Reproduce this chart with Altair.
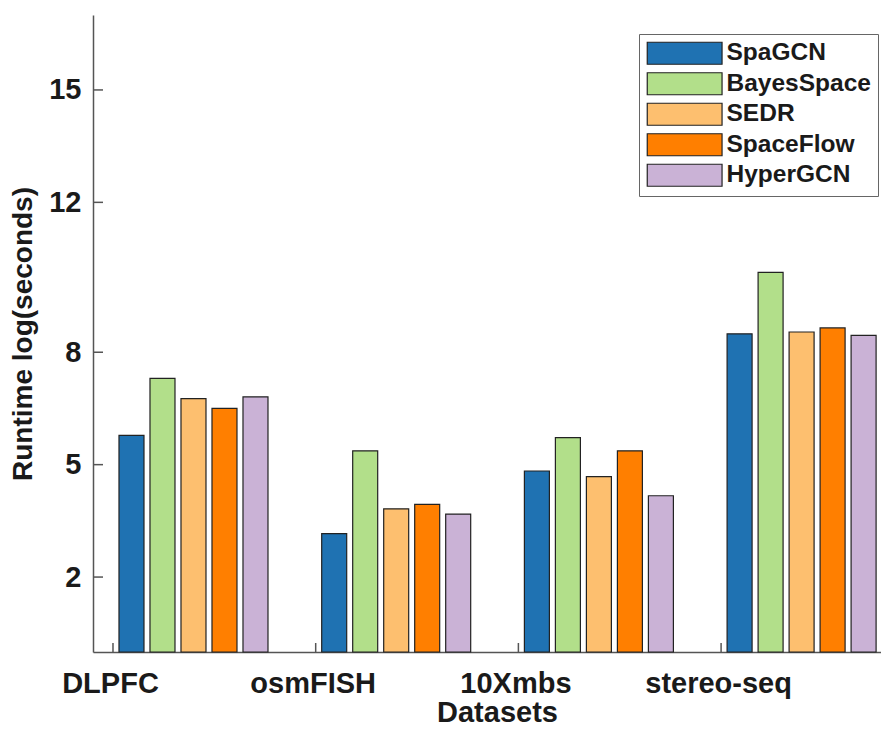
import altair as alt
import pandas as pd

datasets = ["DLPFC", "osmFISH", "10Xmbs", "stereo-seq"]
methods = ["SpaGCN", "BayesSpace", "SEDR", "SpaceFlow", "HyperGCN"]
spagcn = [5.78, 3.16, 4.83, 8.49]
bayesspace = [7.30, 5.37, 5.72, 10.13]
sedr = [6.76, 3.82, 4.68, 8.54]
spaceflow = [6.50, 3.94, 5.37, 8.65]
hypergcn = [6.81, 3.68, 4.17, 8.45]
y_ticks = [2, 5, 8, 12, 15]
colors = ["#1f72b2", "#b2df8a", "#fdbf6f", "#ff7f00", "#cab2d6"]

rows = []
for m, vals in zip(methods, [spagcn, bayesspace, sedr, spaceflow, hypergcn]):
    for d, v in zip(datasets, vals):
        rows.append({"Dataset": d, "Method": m, "Runtime": v})
df = pd.DataFrame(rows)

W, H = 788, 637
FONT = "Liberation Sans"
TXT = "#1a1a1a"
AX = "#555555"

x_scale = alt.Scale(domain=datasets, paddingInner=0.2353, paddingOuter=0.0614, align=0.803)
y_scale = alt.Scale(domain=[0, 17], nice=False, zero=True)

x_axis = alt.Axis(
    title="Datasets", labelAngle=0, ticks=False, tickSize=0, labelPadding=17,
    labelFont=FONT, labelFontSize=29, labelFontWeight="bold", labelColor=TXT,
    labelOffset=-80, domainColor=AX, domainWidth=1.5, labelOverlap=False,
    titleFont=FONT, titleFontSize=29, titleFontWeight="bold", titleColor=TXT,
    titleX=404, titleY=69, titleAlign="center", titleBaseline="alphabetic",
)
y_axis = alt.Axis(
    values=y_ticks, title="Runtime log(seconds)", grid=False, ticks=False, tickSize=0,
    labelPadding=12, labelFont=FONT, labelFontSize=29, labelFontWeight="bold",
    labelColor=TXT, domainColor=AX, domainWidth=1.5, labelOverlap=False,
    titleFont=FONT, titleFontSize=28, titleFontWeight="bold", titleColor=TXT,
    titlePadding=11,
)

bars = alt.Chart(df).mark_bar(stroke="#222222", strokeWidth=1.2).encode(
    x=alt.X("Dataset:N", scale=x_scale, sort=datasets, axis=x_axis),
    xOffset=alt.XOffset(
        "Method:N", sort=methods,
        scale=alt.Scale(domain=methods, paddingInner=0.1935, paddingOuter=0.0968, align=1),
    ),
    y=alt.Y("Runtime:Q", scale=y_scale, axis=y_axis),
    color=alt.Color(
        "Method:N", sort=methods, scale=alt.Scale(domain=methods, range=colors),
        legend=alt.Legend(
            title=None, orient="none", legendX=546, legendY=19,
            symbolType="M-1,-1H5.8V1H-1Z", symbolSize=484,
            symbolStrokeColor="#222222", symbolStrokeWidth=1.2, symbolOpacity=1,
            labelOffset=56, labelFont=FONT, labelFontSize=24.5, labelFontWeight="bold",
            labelColor=TXT, rowPadding=2.5, padding=7, strokeColor="#666666",
            fillColor="white", labelLimit=400,
        ),
    ),
)

ytick_df = pd.DataFrame({"Runtime": y_ticks})
yticks = alt.Chart(ytick_df).mark_rule(color=AX, strokeWidth=1.5).encode(
    y=alt.Y("Runtime:Q", scale=y_scale, axis=y_axis),
    x=alt.value(0), x2=alt.value(10),
)

xtick_df = pd.DataFrame({"Dataset": datasets})
xticks = alt.Chart(xtick_df).mark_rule(color=AX, strokeWidth=1.5).encode(
    x=alt.X("Dataset:N", scale=x_scale, sort=datasets, bandPosition=0, axis=x_axis),
    y=alt.value(H), y2=alt.value(H - 9),
)

chart = alt.layer(bars, yticks, xticks).properties(
    width=W, height=H,
    padding={"left": 85, "top": 7, "right": 0, "bottom": 77},
    autosize=alt.AutoSizeParams(type="none"),
).configure_view(stroke=None)

chart.save("out.html", embed_options={"renderer": "svg", "actions": False})
